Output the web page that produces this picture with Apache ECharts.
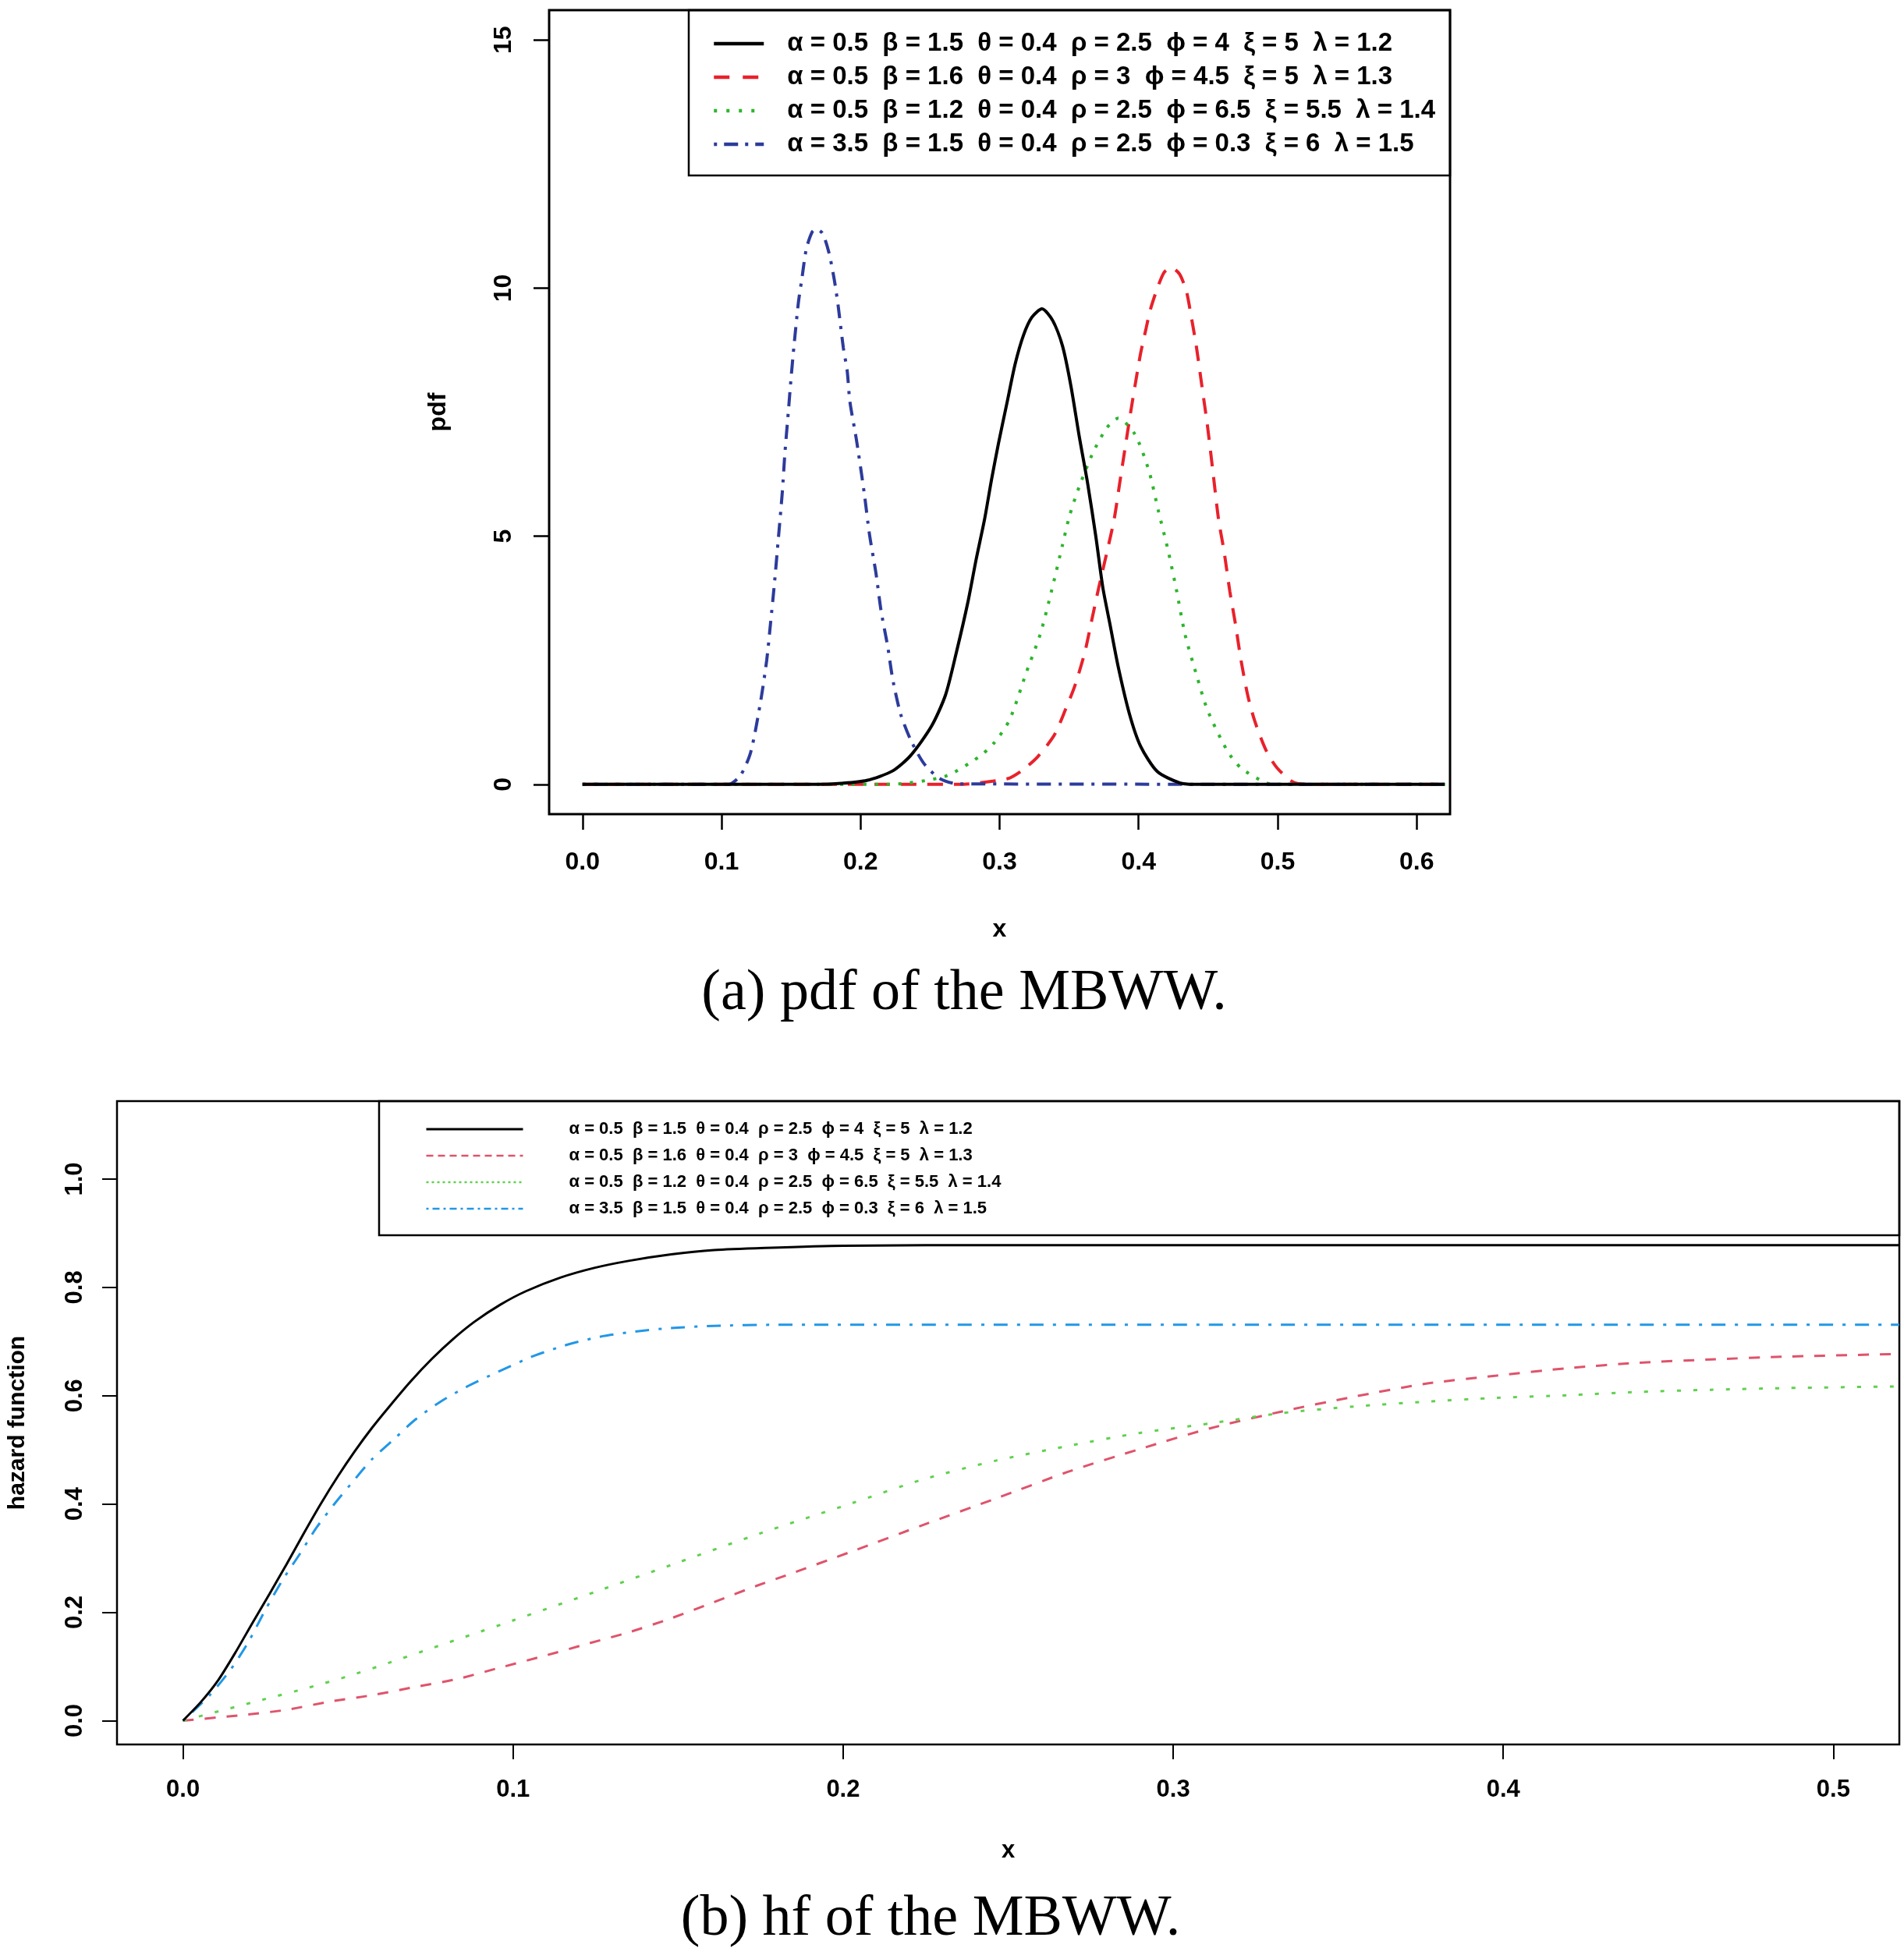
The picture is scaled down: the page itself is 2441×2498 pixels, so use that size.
<!DOCTYPE html>
<html><head><meta charset="utf-8">
<script src="https://cdn.jsdelivr.net/npm/echarts@6/dist/echarts.min.js"></script>
<style>html,body{margin:0;padding:0;background:#fff}#c{width:2441px;height:2498px}</style>
</head><body><div id="c"></div>
<script>
// ---------- labels ----------
const legendLabels = [
  'α = 0.5  β = 1.5  θ = 0.4  ρ = 2.5  ϕ = 4  ξ = 5  λ = 1.2',
  'α = 0.5  β = 1.6  θ = 0.4  ρ = 3  ϕ = 4.5  ξ = 5  λ = 1.3',
  'α = 0.5  β = 1.2  θ = 0.4  ρ = 2.5  ϕ = 6.5  ξ = 5.5  λ = 1.4',
  'α = 3.5  β = 1.5  θ = 0.4  ρ = 2.5  ϕ = 0.3  ξ = 6  λ = 1.5'
];
const captionA = '(a) pdf of the MBWW.';
const captionB = '(b) hf of the MBWW.';
const pdfXTicks = [0, 0.1, 0.2, 0.3, 0.4, 0.5, 0.6];
const pdfYTicks = [0, 5, 10, 15];
const hfXTicks = [0, 0.1, 0.2, 0.3, 0.4, 0.5];
const hfYTicks = [0, 0.2, 0.4, 0.6, 0.8, 1.0];

// ---------- pdf data ----------
const pdf1X = [0,0.17,0.186,0.2045,0.223,0.236,0.251,0.2611,0.2691,0.2772,0.2832,0.2892,0.2942,0.2992,0.3052,0.3112,0.3172,0.3232,0.3305,0.3383,0.3453,0.3513,0.3573,0.3633,0.3693,0.3743,0.3793,0.3854,0.3934,0.4014,0.4134,0.4295,0.44,0.62];
const pdf1Y = [0,0,0.02,0.08,0.27,0.58,1.17,1.8,2.68,3.67,4.54,5.34,6.14,6.87,7.67,8.47,9.05,9.41,9.58,9.34,8.83,8.03,7.01,6.07,4.98,3.96,3.24,2.36,1.42,0.77,0.26,0.03,0,0];
const pdf2X = [0,0.27,0.3052,0.3152,0.3272,0.3393,0.3473,0.3543,0.3613,0.3663,0.3713,0.3773,0.3824,0.3864,0.3904,0.3944,0.3974,0.4014,0.4054,0.4084,0.4134,0.4184,0.4235,0.4295,0.4345,0.4375,0.4415,0.4455,0.4495,0.4535,0.4575,0.4615,0.4656,0.4696,0.4736,0.4786,0.4836,0.4916,0.4996,0.5116,0.525,0.62];
const pdf2Y = [0,0,0.11,0.26,0.55,0.99,1.5,2.0,2.66,3.31,3.96,4.69,5.34,6.07,6.8,7.52,8.03,8.68,9.19,9.56,9.99,10.32,10.41,10.28,9.92,9.48,8.83,8.03,7.23,6.29,5.34,4.69,3.89,3.24,2.51,1.78,1.27,0.69,0.33,0.04,0,0];
const pdf3X = [0,0.22,0.2606,0.2849,0.2962,0.3072,0.3193,0.3292,0.3373,0.3453,0.3503,0.3573,0.3673,0.3773,0.3854,0.3974,0.4074,0.4144,0.4214,0.4274,0.4334,0.4415,0.4495,0.4635,0.4736,0.4916,0.50,0.624];
const pdf3Y = [0,0,0.16,0.55,0.84,1.3,2.26,3.02,3.89,4.83,5.41,6.0,6.69,7.19,7.38,7.05,6.32,5.49,4.69,3.89,3.02,2.22,1.5,0.69,0.33,0.03,0,0];
const pdf4X = [0,0.105,0.1138,0.121,0.128,0.1325,0.1353,0.138,0.1409,0.1437,0.1455,0.148,0.150,0.152,0.1553,0.1577,0.161,0.1652,0.168,0.1727,0.1773,0.1811,0.1839,0.1876,0.1904,0.1923,0.197,0.2026,0.2064,0.211,0.2148,0.2194,0.2232,0.2288,0.2363,0.2456,0.2568,0.27,0.62];
const pdf4Y = [0,0,0.19,0.65,1.65,2.5,3.26,4.03,4.96,5.88,6.64,7.49,8.18,8.8,9.71,10.17,10.79,11.13,11.19,11.1,10.71,10.17,9.64,8.8,8.33,7.72,6.95,5.88,5.04,4.27,3.49,2.8,2.11,1.42,0.88,0.42,0.12,0.01,0];

// ---------- hazard data ----------
const hf1X = [0,0.0055,0.0107,0.0158,0.021,0.0262,0.0314,0.0366,0.0417,0.0469,0.0521,0.0573,0.0625,0.0689,0.0754,0.0819,0.0884,0.0961,0.1039,0.1143,0.1246,0.135,0.1479,0.1609,0.1764,0.2,0.25,0.52];
const hf1Y = [0,0.035,0.075,0.125,0.18,0.234,0.289,0.346,0.4,0.451,0.498,0.541,0.58,0.626,0.668,0.705,0.737,0.768,0.793,0.818,0.836,0.849,0.861,0.869,0.873,0.877,0.878,0.878];
const hf2X = [0,0.0184,0.0314,0.0443,0.0573,0.0702,0.0832,0.0961,0.1091,0.122,0.135,0.1479,0.1609,0.1738,0.1826,0.2029,0.2245,0.2462,0.2679,0.2896,0.3113,0.333,0.3546,0.3763,0.398,0.4197,0.4413,0.463,0.4847,0.5186];
const hf2Y = [0,0.0105,0.02,0.035,0.047,0.062,0.077,0.098,0.119,0.141,0.163,0.189,0.219,0.249,0.268,0.313,0.362,0.41,0.459,0.501,0.54,0.571,0.598,0.622,0.637,0.651,0.661,0.667,0.672,0.677];
const hf3X = [0,0.0125,0.025,0.0375,0.05,0.0625,0.075,0.0875,0.1,0.125,0.15,0.175,0.2029,0.2245,0.2462,0.2679,0.2896,0.3113,0.333,0.3546,0.3763,0.398,0.4197,0.4413,0.463,0.4847,0.5183];
const hf3Y = [0,0.02,0.04,0.06,0.082,0.107,0.133,0.159,0.185,0.238,0.292,0.346,0.402,0.446,0.48,0.507,0.531,0.549,0.568,0.58,0.589,0.596,0.601,0.607,0.611,0.614,0.617];
const hf4X = [0,0.0081,0.0145,0.0197,0.0249,0.0301,0.0353,0.0404,0.0456,0.0521,0.0573,0.0638,0.0702,0.078,0.0858,0.0961,0.1065,0.1169,0.1272,0.1376,0.1479,0.1609,0.18,0.52];
const hf4Y = [0,0.047,0.095,0.144,0.204,0.259,0.307,0.356,0.398,0.446,0.483,0.519,0.555,0.589,0.616,0.646,0.674,0.695,0.71,0.719,0.725,0.729,0.731,0.731];

const zip = (xs, ys) => xs.map((x, i) => [x, ys[i]]);

// ---------- styles ----------
const SANS = "'Liberation Sans', Arial, sans-serif";
const SERIF = "'Liberation Serif', 'Times New Roman', serif";
const topColors = ['#000000', '#e8212b', '#2db52d', '#2c3b9b'];
const topDash = ['solid', [20, 14], [4, 11], [4, 10, 18, 10]];
const topLegendDash = ['solid', [20, 17], [4, 12], [4, 9, 18, 9]];
const botColors = ['#000000', '#df536b', '#61d04f', '#2297e6'];
const botDash = ['solid', [14, 14], [5, 16], [4, 12, 18, 12]];
const botLegendDash = ['solid', [9, 6], [3, 4], [3, 5, 9, 5]];

const chart = echarts.init(document.getElementById('c'), null, {renderer: 'canvas'});

// layout
const G0 = {left: 704, top: 13, width: 1155, height: 1031};
const G1 = {left: 147, top: 1412, width: 2288, height: 825};

function mkSeries(prefix, xsArr, ysArr, colors, dashes, width, gi) {
  return xsArr.map((xs, i) => ({
    name: prefix + i,
    type: 'line',
    xAxisIndex: gi, yAxisIndex: gi,
    data: zip(xs, ysArr[i]),
    symbol: 'none', showSymbol: false,
    smooth: 0.25,
    lineStyle: {color: colors[i], width: width, type: dashes[i], cap: 'butt'},
    itemStyle: {color: colors[i]},
    z: i === 0 ? 3 : 2,
    animation: false
  }));
}

const series = [].concat(
  mkSeries('a', [pdf1X, pdf2X, pdf3X, pdf4X], [pdf1Y, pdf2Y, pdf3Y, pdf4Y], topColors, topDash, 4, 0),
  mkSeries('b', [hf1X, hf2X, hf3X, hf4X], [hf1Y, hf2Y, hf3Y, hf4Y], botColors, botDash, 3, 1)
);

const tickFmt1 = v => (Math.round(v * 10) / 10).toFixed(1);
const noSym = {color: 'rgba(0,0,0,0)', borderWidth: 0};

const option = {
  animation: false,
  backgroundColor: '#ffffff',
  grid: [
    Object.assign({show: true, borderColor: '#000', borderWidth: 3, backgroundColor: 'transparent'}, G0),
    Object.assign({show: true, borderColor: '#000', borderWidth: 2.5, backgroundColor: 'transparent'}, G1)
  ],
  xAxis: [
    {
      type: 'value', gridIndex: 0, min: -0.024, max: 0.624,
      axisLine: {show: false, onZero: false}, splitLine: {show: false},
      axisTick: {show: true, customValues: pdfXTicks, length: 20, lineStyle: {color: '#000', width: 2.5}},
      axisLabel: {customValues: pdfXTicks, formatter: tickFmt1, margin: 46, color: '#000', fontSize: 32, fontWeight: 'bold', fontFamily: SANS},
      name: 'x', nameLocation: 'middle', nameGap: 132,
      nameTextStyle: {color: '#000', fontSize: 32, fontWeight: 'bold', fontFamily: SANS}
    },
    {
      type: 'value', gridIndex: 1, min: -0.02, max: 0.52,
      axisLine: {show: false, onZero: false}, splitLine: {show: false},
      axisTick: {show: true, customValues: hfXTicks, length: 19, lineStyle: {color: '#000', width: 2}},
      axisLabel: {customValues: hfXTicks, formatter: tickFmt1, margin: 43, color: '#000', fontSize: 31, fontWeight: 'bold', fontFamily: SANS},
      name: 'x', nameLocation: 'middle', nameGap: 121,
      nameTextStyle: {color: '#000', fontSize: 31, fontWeight: 'bold', fontFamily: SANS}
    }
  ],
  yAxis: [
    {
      type: 'value', gridIndex: 0, min: -0.6, max: 15.6,
      axisLine: {show: false, onZero: false}, splitLine: {show: false},
      axisTick: {show: true, customValues: pdfYTicks, length: 20, lineStyle: {color: '#000', width: 2.5}},
      axisLabel: {customValues: pdfYTicks, formatter: v => String(Math.round(v)), rotate: 90, margin: 42, color: '#000', fontSize: 32, fontWeight: 'bold', fontFamily: SANS},
      name: 'pdf', nameLocation: 'middle', nameGap: 126, nameRotate: 90,
      nameTextStyle: {color: '#000', fontSize: 32, fontWeight: 'bold', fontFamily: SANS}
    },
    {
      type: 'value', gridIndex: 1, min: -0.044, max: 1.144,
      axisLine: {show: false, onZero: false}, splitLine: {show: false},
      axisTick: {show: true, customValues: hfYTicks, length: 19, lineStyle: {color: '#000', width: 2}},
      axisLabel: {customValues: hfYTicks, formatter: tickFmt1, rotate: 90, margin: 38, color: '#000', fontSize: 31, fontWeight: 'bold', fontFamily: SANS},
      name: 'hazard function', nameLocation: 'middle', nameGap: 112, nameRotate: 90,
      nameTextStyle: {color: '#000', fontSize: 30, fontWeight: 'bold', fontFamily: SANS}
    }
  ],
  legend: [
    {
      orient: 'vertical', left: 913, top: 39, padding: 0,
      itemWidth: 64, itemHeight: 2, itemGap: 9,
      itemStyle: noSym,
      data: [0, 1, 2, 3].map(i => ({name: 'a' + i, itemStyle: noSym, lineStyle: {type: topLegendDash[i], width: 4.5, color: topColors[i]}})),
      formatter: n => legendLabels[+n.slice(1)],
      selectedMode: false,
      textStyle: {color: '#000', fontSize: 33, fontWeight: 'bold', fontFamily: SANS, padding: [0, 0, 0, 25], lineHeight: 34}
    },
    {
      orient: 'vertical', left: 545, top: 1436, padding: 0,
      itemWidth: 124, itemHeight: 2, itemGap: 10,
      itemStyle: noSym,
      data: [0, 1, 2, 3].map(i => ({name: 'b' + i, itemStyle: noSym, lineStyle: {type: botLegendDash[i], width: i === 0 ? 3 : 2.5, color: botColors[i]}})),
      formatter: n => legendLabels[+n.slice(1)],
      selectedMode: false,
      textStyle: {color: '#000', fontSize: 22, fontWeight: 'bold', fontFamily: SANS, padding: [0, 0, 0, 54], lineHeight: 24}
    }
  ],
  graphic: [
    {type: 'rect', z: 1, shape: {x: 883, y: 13, width: 976, height: 212}, style: {fill: null, stroke: '#000', lineWidth: 2.5}},
    {type: 'rect', z: 1, shape: {x: 486, y: 1412, width: 1949, height: 172}, style: {fill: null, stroke: '#000', lineWidth: 2.5}},
    {type: 'text', x: 1236, y: 1275, style: {text: captionA, fill: '#000', font: '74px ' + SERIF, textAlign: 'center', textVerticalAlign: 'middle'}},
    {type: 'text', x: 1193, y: 2462, style: {text: captionB, fill: '#000', font: '74px ' + SERIF, textAlign: 'center', textVerticalAlign: 'middle'}}
  ],
  series: series
};
chart.setOption(option);
</script>
</body></html>
